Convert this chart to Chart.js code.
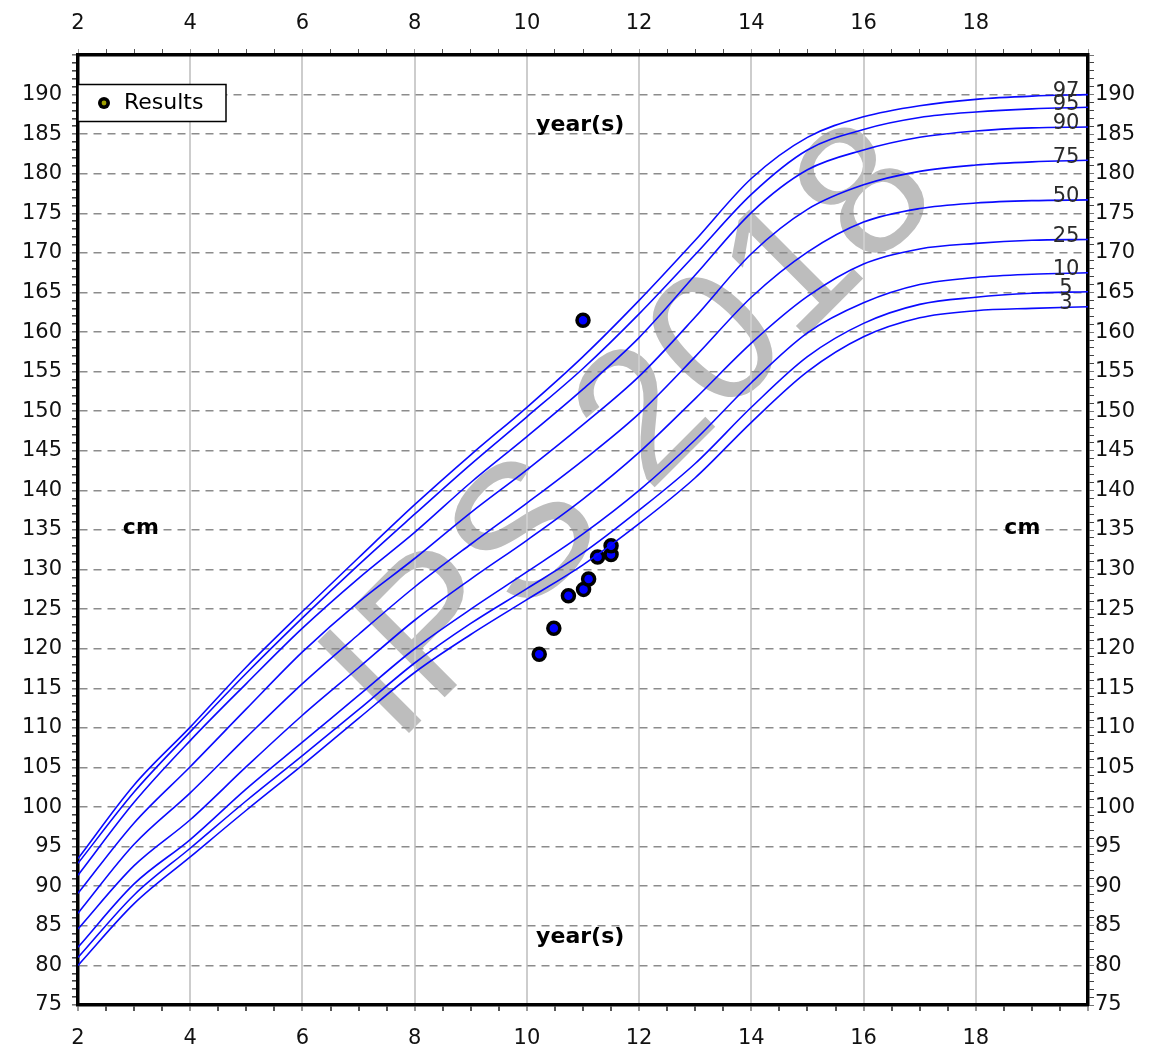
<!DOCTYPE html>
<html>
<head>
<meta charset="utf-8">
<script src="https://cdn.jsdelivr.net/npm/chart.js@4/dist/chart.umd.min.js"></script>
<style>
  html, body { margin: 0; padding: 0; background: #fff; }
  #wrap { width: 1155px; height: 1052px; }
</style>
</head>
<body>
<div id="wrap"><canvas id="growth" width="1155" height="1052"></canvas></div>
<script>
// age in years, stature in cm
const ages = [2, 3, 4, 5, 6, 7, 8, 9, 10, 11, 12, 13, 14, 15, 16, 17, 18, 19, 20];

const p3  = [80.0, 87.8, 93.7, 99.6, 105.3, 111.2, 117.0, 121.8, 126.2, 130.6, 135.8, 141.6, 148.6, 155.0, 159.4, 161.8, 162.7, 163.0, 163.2];
const p5  = [81.0, 88.9, 94.8, 100.8, 106.5, 112.3, 118.2, 123.2, 127.6, 132.1, 137.5, 143.4, 150.5, 156.9, 161.1, 163.5, 164.4, 164.9, 165.1];
const p10 = [82.3, 90.3, 95.9, 102.3, 108.2, 114.1, 120.0, 125.0, 129.7, 134.5, 140.0, 146.4, 153.6, 159.9, 163.7, 166.0, 166.9, 167.3, 167.5];
const p25 = [84.6, 92.6, 98.4, 105.1, 111.6, 117.6, 123.6, 128.8, 133.7, 138.9, 144.8, 151.6, 158.6, 164.5, 168.6, 170.5, 171.2, 171.6, 171.7];
const p50 = [86.6, 95.3, 101.8, 108.8, 115.6, 121.8, 127.8, 133.2, 138.4, 143.8, 149.7, 156.9, 164.4, 170.1, 173.9, 175.6, 176.3, 176.6, 176.7];
const p75 = [89.1, 98.0, 105.1, 112.4, 119.6, 125.9, 131.4, 137.2, 142.6, 148.3, 154.4, 161.9, 169.9, 175.5, 178.6, 180.3, 181.1, 181.5, 181.7];
const p90 = [91.4, 100.6, 108.4, 115.6, 122.6, 128.9, 134.7, 141.0, 146.8, 152.8, 159.3, 167.2, 175.1, 180.5, 183.0, 184.6, 185.4, 185.8, 185.9];
const p95 = [92.9, 101.9, 109.5, 116.9, 123.9, 130.6, 137.0, 143.3, 149.3, 155.4, 162.3, 169.8, 177.4, 183.0, 185.6, 187.1, 187.8, 188.2, 188.4];
const p97 = [93.5, 102.8, 110.1, 117.7, 124.7, 131.5, 138.2, 144.5, 150.5, 156.9, 164.0, 171.6, 179.4, 184.6, 187.2, 188.6, 189.4, 189.8, 190.0];

const percentileNames = ['3', '5', '10', '25', '50', '75', '90', '95', '97'];
const percentileSeries = [p3, p5, p10, p25, p50, p75, p90, p95, p97];

const resultAges    = [10.22, 10.48, 10.74, 11.00, 11.01, 11.10, 11.26, 11.50, 11.50];
const resultHeights = [119.3, 122.6, 126.7, 161.5, 127.5, 128.8, 131.6, 131.9, 133.0];

const AXIS_FONT = { family: 'DejaVu Sans', size: 21 };

const curveSets = percentileSeries.map((vals, i) => ({
    label: percentileNames[i],
    data: ages.map((a, j) => ({ x: a, y: vals[j] })),
    borderColor: '#0a0aff',
    borderWidth: 1.6,
    pointRadius: 0,
    fill: false,
    cubicInterpolationMode: 'monotone'
}));

const resultSet = {
    label: 'Results',
    data: resultAges.map((a, i) => ({ x: a, y: resultHeights[i] })),
    showLine: false,
    pointRadius: 6,
    pointBorderWidth: 3.5,
    pointBorderColor: '#000',
    pointBackgroundColor: '#0000ff'
};

// white page + watermark under the grid
const backdrop = {
    id: 'backdrop',
    beforeDraw(chart) {
        const { ctx, chartArea: a } = chart;
        ctx.save();
        ctx.fillStyle = '#fff';
        ctx.fillRect(0, 0, chart.width, chart.height);
        ctx.translate(a.left + (a.right - a.left) * 0.55, a.top + (a.bottom - a.top) * 0.4);
        ctx.rotate(-Math.PI / 4);
        ctx.font = '188px "Liberation Sans"';
        ctx.fillStyle = '#bdbdbd';
        ctx.textAlign = 'center';
        ctx.textBaseline = 'middle';
        ctx.fillText('IPS 2018', 0, 0);
        ctx.restore();
    }
};

// percentile names, axis captions and the legend box
const overlay = {
    id: 'overlay',
    afterDatasetsDraw(chart) {
        const { ctx, chartArea: a } = chart;
        const xs = chart.scales.x, ys = chart.scales.y;
        ctx.save();
        ctx.font = '21px "DejaVu Sans"';
        ctx.fillStyle = '#2a2a2a';
        ctx.textAlign = 'center';
        ctx.textBaseline = 'middle';
        percentileSeries.forEach((vals, i) => {
            ctx.fillText(percentileNames[i], a.right - 22, ys.getPixelForValue(vals[vals.length - 1]) - 3);
        });

        ctx.font = 'bold 22px "DejaVu Sans"';
        ctx.fillStyle = '#000';
        ctx.fillText('year(s)', xs.getPixelForValue(10.95), ys.getPixelForValue(186.1));
        ctx.fillText('year(s)', xs.getPixelForValue(10.95), ys.getPixelForValue(83.6));
        ctx.fillText('cm', xs.getPixelForValue(3.12), ys.getPixelForValue(135.2));
        ctx.fillText('cm', xs.getPixelForValue(18.83), ys.getPixelForValue(135.2));
        ctx.restore();
    },
    afterDraw(chart) {
        const { ctx, chartArea: a } = chart;
        ctx.save();
        ctx.fillStyle = '#fff';
        ctx.fillRect(a.left, 84, 148, 37);
        ctx.strokeStyle = '#000';
        ctx.lineWidth = 1.5;
        ctx.strokeRect(a.left, 84.5, 148, 37);
        ctx.beginPath();
        ctx.arc(a.left + 26, 103, 6, 0, Math.PI * 2);
        ctx.fillStyle = '#000';
        ctx.fill();
        ctx.beginPath();
        ctx.arc(a.left + 26, 103, 2.4, 0, Math.PI * 2);
        ctx.fillStyle = '#a0a000';
        ctx.fill();
        ctx.font = '22px "DejaVu Sans"';
        ctx.fillStyle = '#000';
        ctx.textBaseline = 'middle';
        ctx.fillText('Results', a.left + 46, 103);
        ctx.restore();
    }
};

const xTicks = (pad) => ({
    stepSize: 0.5,
    autoSkip: false,
    maxRotation: 0,
    padding: pad,
    color: '#111',
    font: AXIS_FONT,
    callback: v => (v % 2 === 0 && v < 20) ? String(v) : ''
});
const yTicks = (pad) => ({
    stepSize: 1,
    autoSkip: false,
    padding: pad,
    color: '#111',
    font: AXIS_FONT,
    callback: v => (v % 5 === 0 && v < 195) ? String(v) : ''
});

new Chart(document.getElementById('growth'), {
    type: 'line',
    data: { datasets: [...curveSets, resultSet] },
    plugins: [backdrop, overlay],
    options: {
        responsive: false,
        animation: false,
        layout: { padding: 0 },
        plugins: { legend: { display: false }, tooltip: { enabled: false } },
        scales: {
            x: {
                type: 'linear', position: 'bottom', min: 2, max: 20,
                ticks: xTicks(15),
                grid: {
                    color: c => (c.tick && c.tick.value % 2 === 0) ? '#cdcdcd' : 'transparent',
                    lineWidth: 2,
                    tickLength: 6,
                    tickColor: c => (c.tick && c.tick.value % 2 === 0) ? '#999' : '#555'
                },
                border: { color: '#000', width: 3.5 },
                afterFit: s => { s.height = 47; }
            },
            x2: {
                type: 'linear', position: 'top', min: 2, max: 20,
                ticks: xTicks(13),
                grid: {
                    drawOnChartArea: false,
                    tickLength: 6,
                    tickColor: c => (c.tick && c.tick.value % 2 === 0) ? '#999' : '#555'
                },
                border: { color: '#000', width: 3.5 },
                afterFit: s => { s.height = 55; }
            },
            y: {
                type: 'linear', position: 'left', min: 75, max: 195,
                ticks: yTicks(10),
                grid: {
                    color: c => (c.tick && c.tick.value % 5 === 0 && c.tick.value > 75 && c.tick.value < 195) ? '#8c8c8c' : 'transparent',
                    lineWidth: 1.6,
                    tickLength: 6,
                    tickColor: c => (c.tick && c.tick.value % 5 === 0) ? '#777' : '#444'
                },
                border: { color: '#000', width: 3.5, dash: [8, 6] },
                afterFit: s => { s.width = 78; }
            },
            y2: {
                type: 'linear', position: 'right', min: 75, max: 195,
                ticks: yTicks(1),
                grid: {
                    drawOnChartArea: false,
                    tickLength: 6,
                    tickColor: c => (c.tick && c.tick.value % 5 === 0) ? '#777' : '#444'
                },
                border: { color: '#000', width: 3.5 },
                afterFit: s => { s.width = 67; }
            }
        }
    }
});
</script>
</body>
</html>
